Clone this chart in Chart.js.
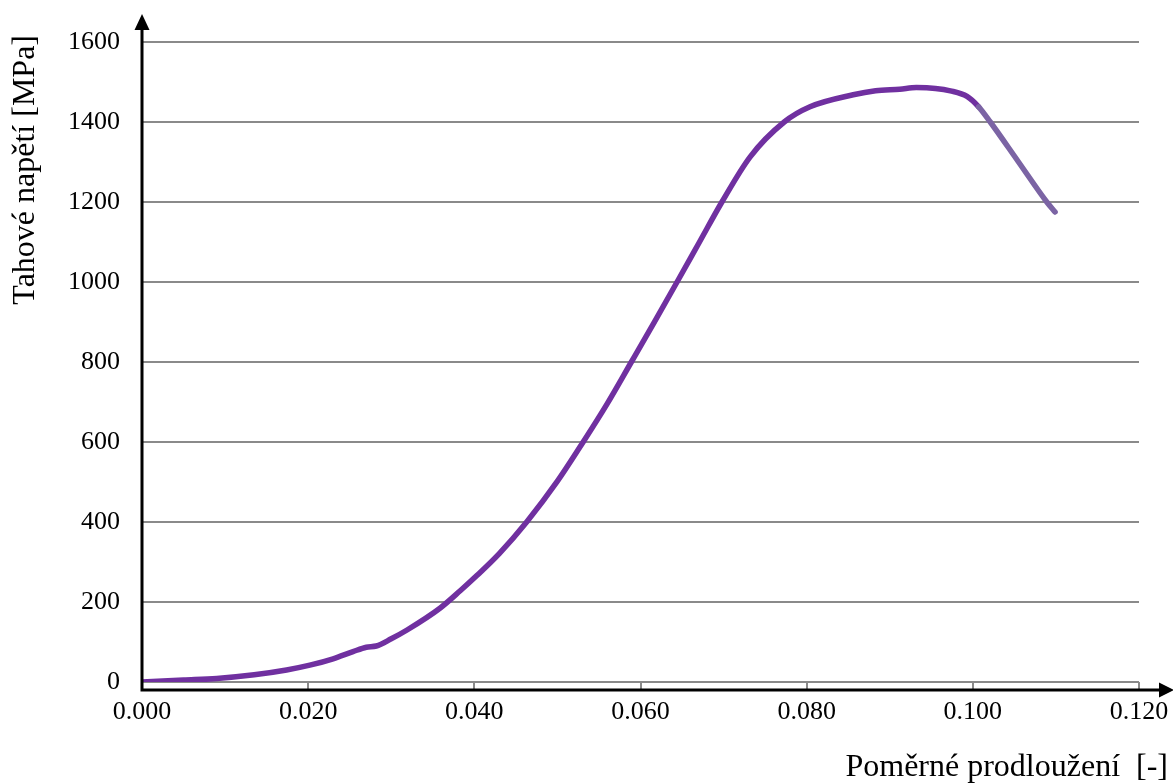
<!DOCTYPE html>
<html>
<head>
<meta charset="utf-8">
<script src="https://cdn.jsdelivr.net/npm/chart.js@4/dist/chart.umd.min.js"></script>
<style>
  body { margin: 0; background: #fff; }
  #wrap { width: 1173px; height: 784px; }
</style>
</head>
<body>
<div id="wrap"><canvas id="myChart" width="1173" height="784"></canvas></div>
<script>
const strain = [0, 0.005, 0.009, 0.0135, 0.0174, 0.0202, 0.023, 0.0254, 0.027, 0.0282,
    0.030, 0.0319, 0.0359, 0.0383, 0.0403, 0.043, 0.0463, 0.050, 0.0531, 0.056,
    0.0589, 0.0617, 0.0644, 0.0671, 0.0698, 0.0732, 0.0773, 0.0804, 0.0856, 0.0883,
    0.0912, 0.0932, 0.0955, 0.0973, 0.0993, 0.1007, 0.1021, 0.1055, 0.1089, 0.1099];
const stress = [0, 5, 9, 18, 30, 42, 58, 76, 87, 90,
    108, 130, 185, 228, 266, 321, 400, 502, 600, 696,
    800, 901, 1000, 1100, 1200, 1313, 1400, 1438, 1468, 1478,
    1482, 1486, 1484, 1478, 1464, 1438, 1400, 1300, 1200, 1175];
const fractureStart = 0.1007;

const xTitle = 'Poměrné prodloužení  [-]';
const yTitle = 'Tahové napětí [MPa]';

const font = 'Liberation Serif, Times New Roman, serif';
const gridColor = '#8a8a8a';

const points = strain.map((x, i) => ({ x: x, y: stress[i] }));

// black arrow axes + titles
const axesPlugin = {
    id: 'arrowAxes',
    afterDraw(chart) {
        const c = chart.ctx;
        const a = chart.chartArea;
        const ax = a.left;
        const ay = a.bottom + 8;
        c.save();
        c.strokeStyle = '#000';
        c.fillStyle = '#000';
        c.lineWidth = 3;
        c.beginPath();
        c.moveTo(ax, ay + 1.5);
        c.lineTo(ax, 26);
        c.moveTo(ax - 1.5, ay);
        c.lineTo(1162, ay);
        c.stroke();
        c.beginPath();
        c.moveTo(ax, 14);
        c.lineTo(ax - 7.5, 30);
        c.lineTo(ax + 7.5, 30);
        c.closePath();
        c.fill();
        c.beginPath();
        c.moveTo(1174, ay);
        c.lineTo(1159, ay - 7.5);
        c.lineTo(1159, ay + 7.5);
        c.closePath();
        c.fill();

        c.font = '32px ' + font;
        c.fillStyle = '#000';
        c.textAlign = 'right';
        c.textBaseline = 'middle';
        c.fillText(xTitle, 1168, 768);
        c.translate(26, 35);
        c.rotate(-Math.PI / 2);
        c.fillText(yTitle, 0, 0);
        c.restore();
    }
};

new Chart(document.getElementById('myChart'), {
    type: 'line',
    data: {
        datasets: [{
            data: points,
            borderColor: '#7030A0',
            borderWidth: 5.5,
            borderCapStyle: 'round',
            borderJoinStyle: 'round',
            pointRadius: 0,
            fill: false,
            cubicInterpolationMode: 'monotone',
            segment: {
                borderColor: ctx => ctx.p0.parsed.x >= fractureStart ? '#7B64A4' : '#7030A0'
            }
        }]
    },
    options: {
        responsive: false,
        animation: false,
        layout: { padding: { top: 42, right: 34, left: 0, bottom: 0 } },
        plugins: {
            legend: { display: false },
            tooltip: { enabled: false }
        },
        scales: {
            x: {
                type: 'linear',
                min: 0,
                max: 0.12,
                afterFit: s => {
                    s.height = 102;
                    s.paddingLeft = 0;
                    s.paddingRight = 0;
                },
                border: { display: false },
                grid: {
                    drawOnChartArea: false,
                    drawTicks: true,
                    tickLength: 7,
                    color: gridColor,
                    lineWidth: 2
                },
                ticks: {
                    stepSize: 0.02,
                    padding: 8,
                    color: '#000',
                    font: { family: font, size: 26 },
                    maxRotation: 0,
                    callback: v => v.toFixed(3)
                }
            },
            y: {
                min: 0,
                max: 1600,
                afterFit: s => { s.width = 142; },
                border: { display: false },
                grid: {
                    drawTicks: false,
                    color: gridColor,
                    lineWidth: 2
                },
                ticks: {
                    stepSize: 200,
                    padding: 22,
                    color: '#000',
                    font: { family: font, size: 26 },
                    callback: v => String(v)
                }
            }
        }
    },
    plugins: [axesPlugin]
});
</script>
</body>
</html>
